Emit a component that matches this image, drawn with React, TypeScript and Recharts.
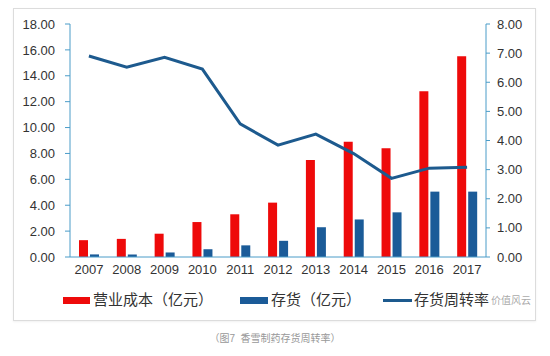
import {
  ComposedChart,
  Bar,
  Line,
  XAxis,
  YAxis,
} from "recharts";

const years = ["2007", "2008", "2009", "2010", "2011", "2012", "2013", "2014", "2015", "2016", "2017"];
// 营业成本（亿元）
const operatingCost = [1.3, 1.4, 1.8, 2.7, 3.3, 4.2, 7.5, 8.9, 8.4, 12.8, 15.5];
// 存货（亿元）
const inventory = [0.2, 0.2, 0.35, 0.6, 0.9, 1.25, 2.3, 2.9, 3.45, 5.05, 5.05];
// 存货周转率
const turnover = [6.9, 6.52, 6.86, 6.45, 4.57, 3.84, 4.22, 3.55, 2.7, 3.05, 3.08];

const leftTicks = [0, 2, 4, 6, 8, 10, 12, 14, 16, 18];
const rightTicks = [0, 1, 2, 3, 4, 5, 6, 7, 8];

const RED = "#EE0A0A";
const BLUE = "#1B5B98";
const LINE_BLUE = "#1D5A8E";
const AXIS = "#4A9CC8";
const NUM_FONT = "'Liberation Sans', Arial, sans-serif";
const CJK_FONT = "'Liberation Sans', 'Noto Sans CJK SC', sans-serif";

const data = years.map((year, i) => ({
  year,
  cost: operatingCost[i],
  inventory: inventory[i],
  turnover: turnover[i],
}));

const fmt = (v: number) => v.toFixed(2);

export default function App() {
  const tickStyle = { fill: "#333", fontSize: 13, fontFamily: NUM_FONT };
  return (
    <div
      style={{
        position: "fixed",
        left: 0,
        top: 0,
        width: 550,
        height: 356,
        background: "#fff",
        overflow: "hidden",
      }}
    >
      <div
        style={{
          position: "absolute",
          left: 13,
          top: 8,
          width: 521,
          height: 311,
          border: "1px solid #dcdcdc",
          boxShadow: "0 1px 2px rgba(0,0,0,0.06)",
        }}
      />
      <div style={{ position: "absolute", left: 0, top: 0 }}>
        <ComposedChart
          width={550}
          height={356}
          data={data}
          margin={{ top: 24, right: 0, bottom: 69, left: 0 }}
          barSize={9}
          barGap={2}
        >
          <XAxis
            dataKey="year"
            tick={tickStyle}
            tickLine={false}
            tickMargin={2}
            stroke={AXIS}
            height={30}
          />
          <YAxis
            yAxisId="left"
            width={70}
            domain={[0, 18]}
            ticks={leftTicks}
            tickFormatter={fmt}
            tick={tickStyle}
            tickSize={5}
            tickMargin={10}
            stroke={AXIS}
            interval={0}
          />
          <YAxis
            yAxisId="right"
            orientation="right"
            width={64}
            domain={[0, 8]}
            ticks={rightTicks}
            tickFormatter={fmt}
            tick={tickStyle}
            tickSize={4}
            tickMargin={7}
            stroke={AXIS}
            interval={0}
          />
          <Bar yAxisId="left" dataKey="cost" fill={RED} isAnimationActive={false} />
          <Bar yAxisId="left" dataKey="inventory" fill={BLUE} isAnimationActive={false} />
          <Line
            yAxisId="right"
            dataKey="turnover"
            stroke={LINE_BLUE}
            strokeWidth={3}
            dot={false}
            type="linear"
            isAnimationActive={false}
          />
        </ComposedChart>
      </div>

      {/* legend */}
      <div style={{ fontFamily: CJK_FONT, fontSize: 15, color: "#333" }}>
        <div style={{ position: "absolute", left: 63, top: 297, width: 27, height: 7, background: RED }} />
        <div style={{ position: "absolute", left: 93, top: 290, lineHeight: "20px" }}>营业成本（亿元）</div>
        <div style={{ position: "absolute", left: 240, top: 297, width: 28, height: 7, background: BLUE }} />
        <div style={{ position: "absolute", left: 271, top: 290, lineHeight: "20px" }}>存货（亿元）</div>
        <div style={{ position: "absolute", left: 383, top: 299, width: 29, height: 3, background: LINE_BLUE }} />
        <div style={{ position: "absolute", left: 414, top: 290, lineHeight: "20px" }}>存货周转率</div>
        <div
          style={{
            position: "absolute",
            left: 491,
            top: 293,
            lineHeight: "16px",
            fontSize: 10,
            color: "rgba(140,140,140,0.75)",
          }}
        >
          价值风云
        </div>
      </div>

      <div
        style={{
          position: "absolute",
          left: 0,
          width: 550,
          top: 330,
          textAlign: "center",
          fontFamily: CJK_FONT,
          fontSize: 10,
          color: "#999",
        }}
      >
        （图7&nbsp;&nbsp;香雪制药存货周转率）
      </div>
    </div>
  );
}
